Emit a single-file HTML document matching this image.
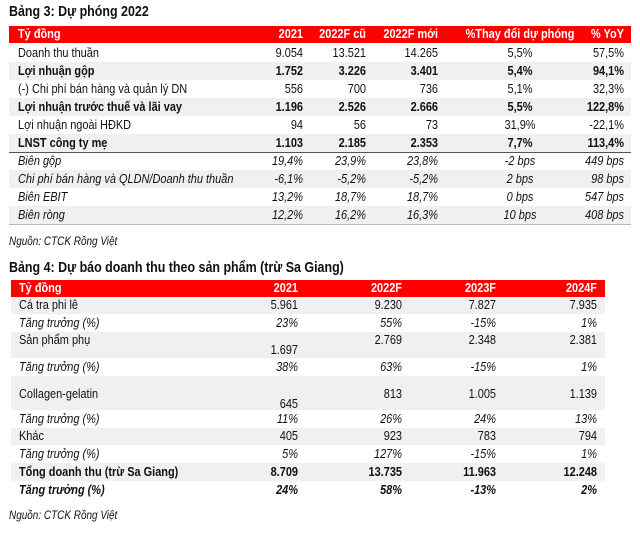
<!DOCTYPE html>
<html><head><meta charset="utf-8"><style>
body{margin:0;width:640px;height:533px;background:#fff;position:relative;overflow:hidden;font-family:"Liberation Sans",sans-serif;color:#111;font-size:13.2px}
.a{position:absolute;white-space:nowrap;line-height:14px;transform:scaleX(.83);transform-origin:left center}
.a.r{transform-origin:right center}
.a.c{transform-origin:center center}
.t{font-weight:bold;font-size:15px}
.bar{position:absolute;background:#f00}
.g{position:absolute;background:#f0f0f0}
.h{color:#fff;font-weight:bold}
.r{text-align:right}
.c{text-align:center}
.b{font-weight:bold}
.i{font-style:italic}
.ln{position:absolute;height:1px;background:#555}
</style></head><body>
<div class="a t" style="left:9px;top:5px">Bảng 3: Dự phóng 2022</div>
<div class="bar" style="left:9px;top:26px;width:622px;height:17px"></div>
<div class="g" style="left:9px;top:62px;width:622px;height:18px"></div>
<div class="g" style="left:9px;top:98px;width:622px;height:18px"></div>
<div class="g" style="left:9px;top:134px;width:622px;height:18px"></div>
<div class="g" style="left:9px;top:170px;width:622px;height:18px"></div>
<div class="g" style="left:9px;top:206px;width:622px;height:18px"></div>
<div class="ln" style="left:9px;top:152px;width:622px"></div>
<div class="ln" style="left:9px;top:224px;width:622px;background:#bbb"></div>
<div id="t1"></div>
<div class="a i" style="left:9px;top:234px;font-size:12px">Nguồn: CTCK Rồng Việt</div>

<div class="a t" style="left:9px;top:261px">Bảng 4: Dự báo doanh thu theo sản phẩm (trừ Sa Giang)</div>
<div class="bar" style="left:11px;top:280px;width:594px;height:17px"></div>
<div class="g" style="left:11px;top:297px;width:594px;height:17px"></div>
<div class="g" style="left:11px;top:332px;width:594px;height:26px"></div>
<div class="g" style="left:11px;top:376px;width:594px;height:34px"></div>
<div class="g" style="left:11px;top:428px;width:594px;height:17px"></div>
<div class="g" style="left:11px;top:463px;width:594px;height:18px"></div>
<div id="t2"></div>
<div class="a i" style="left:9px;top:508px;font-size:12px">Nguồn: CTCK Rồng Việt</div>
<script>
function put(id,rows,cols,lab){var h='';rows.forEach(function(r){var y=r[0],cls=r[1];h+='<div class="a '+cls+'" style="left:'+lab+'px;top:'+(y-7)+'px">'+r[2]+'</div>';for(var k=0;k<cols.length;k++){var v=r[3+k];var c=cols[k];if(c[1]=='c'){h+='<div class="a c '+cls+'" style="left:'+(c[0]-70)+'px;width:140px;top:'+(y-7)+'px">'+v+'</div>';}else{h+='<div class="a r '+cls+'" style="left:'+(c[0]-150)+'px;width:150px;top:'+(y-7)+'px">'+v+'</div>';}}});document.getElementById(id).outerHTML=h;}
put('t1',[
[34,'h','Tỷ đồng','2021','2022F cũ','2022F mới','%Thay đổi dự phóng','% YoY'],
[53,'','Doanh thu thuần','9.054','13.521','14.265','5,5%','57,5%'],
[71,'b','Lợi nhuận gộp','1.752','3.226','3.401','5,4%','94,1%'],
[89,'','(-) Chi phí bán hàng và quản lý DN','556','700','736','5,1%','32,3%'],
[107,'b','Lợi nhuận trước thuế và lãi vay','1.196','2.526','2.666','5,5%','122,8%'],
[125,'','Lợi nhuận ngoài HĐKD','94','56','73','31,9%','-22,1%'],
[143,'b','LNST công ty mẹ','1.103','2.185','2.353','7,7%','113,4%'],
[161,'i','Biên gộp','19,4%','23,9%','23,8%','-2 bps','449 bps'],
[179,'i','Chi phí bán hàng và QLDN/Doanh thu thuần','-6,1%','-5,2%','-5,2%','2 bps','98 bps'],
[197,'i','Biên EBIT','13,2%','18,7%','18,7%','0 bps','547 bps'],
[215,'i','Biên ròng','12,2%','16,2%','16,3%','10 bps','408 bps']
],[[303,'r'],[366,'r'],[438,'r'],[520,'c'],[624,'r']],18);
var R=[
[288,'h','Tỷ đồng','2021','2022F','2023F','2024F'],
[305,'','Cá tra phi lê','5.961','9.230','7.827','7.935'],
[323,'i','Tăng trưởng (%)','23%','55%','-15%','1%'],
[340,'','Sản phẩm phụ','1.697','2.769','2.348','2.381'],
[367,'i','Tăng trưởng (%)','38%','63%','-15%','1%'],
[394,'','Collagen-gelatin','645','813','1.005','1.139'],
[419,'i','Tăng trưởng (%)','11%','26%','24%','13%'],
[436,'','Khác','405','923','783','794'],
[454,'i','Tăng trưởng (%)','5%','127%','-15%','1%'],
[472,'b','Tổng doanh thu (trừ Sa Giang)','8.709','13.735','11.963','12.248'],
[490,'b i','Tăng trưởng (%)','24%','58%','-13%','2%']];
put('t2',R,[[298,'r'],[402,'r'],[496,'r'],[597,'r']],19);
[].forEach.call(document.querySelectorAll('.a.r'),function(e){if(e.textContent=='1.697'&&parseInt(e.style.top)==333)e.style.top='343px';if(e.textContent=='645'&&parseInt(e.style.top)==387)e.style.top='397px';});
</script>
</body></html>
